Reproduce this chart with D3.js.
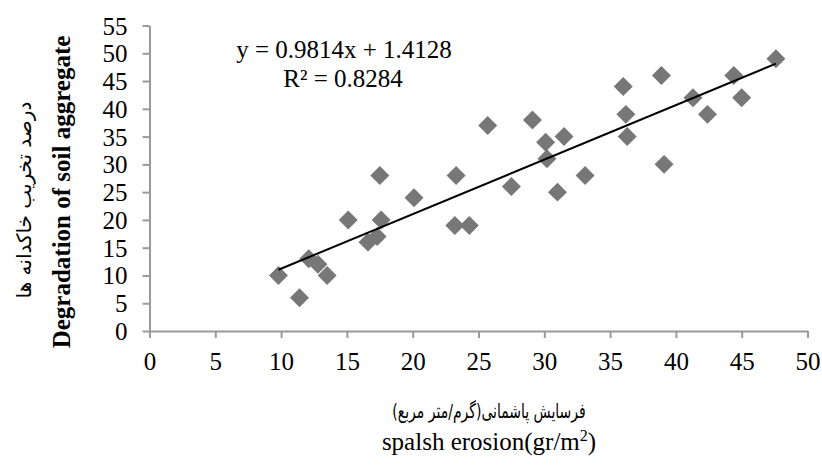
<!DOCTYPE html>
<html>
<head>
<meta charset="utf-8">
<script src="https://cdn.jsdelivr.net/npm/d3@7"></script>
<style>
  body { margin: 0; background: #fff; }
  svg { display: block; }
</style>
</head>
<body>
<div class="chart"></div>
<script>
// splash erosion (gr/m2) vs degradation of soil aggregate (%)
const erosion = [9.8, 11.4, 12.1, 12.8, 13.5, 15.1, 16.6, 17.3, 17.5, 17.6, 20.1, 23.3, 23.2, 24.3,
                 27.5, 25.7, 29.1, 30.1, 31.5, 30.2, 31.0, 33.1, 36.0, 36.2, 36.3, 38.9, 39.1, 41.3,
                 42.4, 44.4, 45.0, 47.6];
const degradation = [10, 6, 13, 12, 10, 20, 16, 17, 28, 20, 24, 28, 19, 19,
                     26, 37, 38, 34, 35, 31, 25, 28, 44, 39, 35, 46, 30, 42,
                     39, 46, 42, 49];
const xTicks = [0, 5, 10, 15, 20, 25, 30, 35, 40, 45, 50];
const yTicks = [0, 5, 10, 15, 20, 25, 30, 35, 40, 45, 50, 55];
const slope = 0.9814;
const intercept = 1.4128;
const rSquared = 0.8284;

const WIDTH = 822;
const HEIGHT = 473;
const serif = '"Liberation Serif", "Times New Roman", serif';
const persian = '"DejaVu Sans", sans-serif';

const svg = d3.select('.chart')
    .append('svg')
        .attr('width', WIDTH)
        .attr('height', HEIGHT);

const x = d3.scaleLinear().domain([0, 50]).range([149.5, 807.5]);
const y = d3.scaleLinear().domain([0, 55]).range([331, 25.5]);

// axes
const xAxis = d3.axisBottom(x)
    .tickValues(xTicks)
    .tickSize(7)
    .tickPadding(14)
    .tickSizeOuter(0);
const yAxis = d3.axisLeft(y)
    .tickValues(yTicks)
    .tickSize(7)
    .tickPadding(15)
    .tickSizeOuter(0);

const gx = svg.append('g')
    .attr('transform', `translate(0,${y(0)})`)
    .call(xAxis);
const gy = svg.append('g')
    .attr('transform', `translate(${x(0)},0)`)
    .call(yAxis);

[gx, gy].forEach(g => {
    g.attr('font-family', null).attr('font-size', null);
    g.select('.domain').attr('stroke', '#9a9a9a').attr('stroke-width', 2);
    g.selectAll('.tick line').attr('stroke', '#9a9a9a').attr('stroke-width', 2);
    g.selectAll('.tick text')
        .attr('fill', '#000')
        .style('font-family', serif)
        .style('font-size', '25px');
});
gy.selectAll('.tick text').attr('dy', '0.34em');

// points
const points = erosion.map((e, i) => [e, degradation[i]]);
const diamond = d3.symbol().type(d3.symbolSquare).size(180);

svg.append('g')
    .selectAll('path')
    .data(points)
    .join('path')
        .attr('d', diamond)
        .attr('transform', d => `translate(${x(d[0])},${y(d[1])}) rotate(45)`)
        .attr('fill', '#777777');

// trend line
const xMin = d3.min(erosion);
const xMax = d3.max(erosion);
const line = d3.line()
    .x(d => x(d))
    .y(d => y(slope * d + intercept));
svg.append('path')
    .datum([xMin, xMax])
    .attr('d', line)
    .attr('fill', 'none')
    .attr('stroke', '#000')
    .attr('stroke-width', 2);

// equation
svg.append('text')
    .attr('x', 344)
    .attr('y', 58)
    .attr('text-anchor', 'middle')
    .style('font-family', serif)
    .style('font-size', '25px')
    .text(`y = ${slope}x + ${intercept}`);
svg.append('text')
    .attr('x', 343)
    .attr('y', 87)
    .attr('text-anchor', 'middle')
    .style('font-family', serif)
    .style('font-size', '25px')
    .text(`R\u00B2 = ${rSquared}`);

// y titles
svg.append('text')
    .attr('transform', 'translate(70,192) rotate(-90)')
    .attr('text-anchor', 'middle')
    .style('font-family', serif)
    .style('font-size', '25px')
    .style('font-weight', 'bold')
    .text('Degradation of soil aggregate');
svg.append('text')
    .attr('transform', 'translate(31,200) rotate(-90)')
    .attr('text-anchor', 'middle')
    .attr('direction', 'rtl')
    .style('font-family', persian)
    .style('font-size', '20px')
    .text('درصد تخریب خاکدانه ها');

// x titles
svg.append('text')
    .attr('transform', 'translate(489,418) scale(0.7,1)')
    .attr('text-anchor', 'middle')
    .attr('direction', 'rtl')
    .style('font-family', persian)
    .style('font-size', '20px')
    .text('فرسایش پاشمانی(گرم/متر مربع)');
const xt = svg.append('text')
    .attr('x', 489)
    .attr('y', 450)
    .attr('text-anchor', 'middle')
    .style('font-family', serif)
    .style('font-size', '25px')
    .text('spalsh erosion(gr/m');
xt.append('tspan')
    .attr('dy', -9)
    .style('font-size', '16px')
    .text('2');
xt.append('tspan')
    .attr('dy', 9)
    .text(')');
</script>
</body>
</html>
